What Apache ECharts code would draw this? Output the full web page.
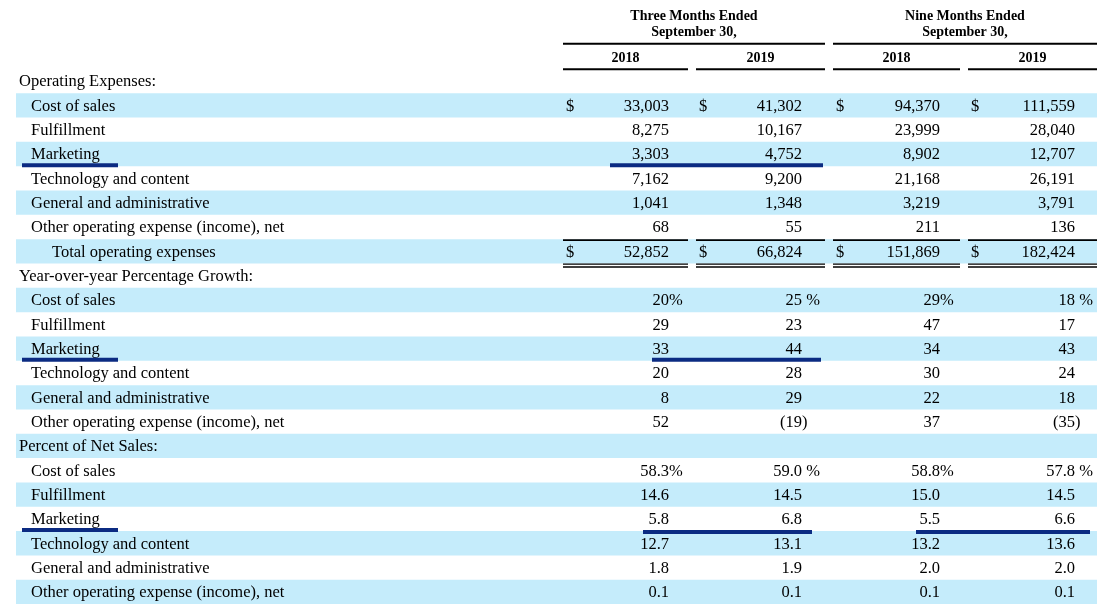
<!DOCTYPE html>
<html>
<head>
<meta charset="utf-8">
<script src="https://cdn.jsdelivr.net/npm/echarts@6/dist/echarts.min.js"></script>
<style>
  html, body { margin: 0; padding: 0; background: #fff; }
  #chart { width: 1109px; height: 613px; }
</style>
</head>
<body>
<div id="chart"></div>
<script>
// ---- table text and values ----
const periodTitles = ['Three Months Ended', 'Nine Months Ended'];
const periodSubtitle = 'September 30,';
const years = ['2018', '2019', '2018', '2019'];

const sectionTitles = ['Operating Expenses:', 'Year-over-year Percentage Growth:', 'Percent of Net Sales:'];
const expenseItems = ['Cost of sales', 'Fulfillment', 'Marketing', 'Technology and content',
  'General and administrative', 'Other operating expense (income), net'];
const totalLabel = 'Total operating expenses';

// operating expenses, $ millions (last value = total)
const expense3m2018 = [33003, 8275, 3303, 7162, 1041, 68, 52852];
const expense3m2019 = [41302, 10167, 4752, 9200, 1348, 55, 66824];
const expense9m2018 = [94370, 23999, 8902, 21168, 3219, 211, 151869];
const expense9m2019 = [111559, 28040, 12707, 26191, 3791, 136, 182424];

// year-over-year growth, %
const growth3m2018 = [20, 29, 33, 20, 8, 52];
const growth3m2019 = [25, 23, 44, 28, 29, -19];
const growth9m2018 = [29, 47, 34, 30, 22, 37];
const growth9m2019 = [18, 17, 43, 24, 18, -35];

// percent of net sales
const share3m2018 = [58.3, 14.6, 5.8, 12.7, 1.8, 0.1];
const share3m2019 = [59.0, 14.5, 6.8, 13.1, 1.9, 0.1];
const share9m2018 = [58.8, 15.0, 5.5, 13.2, 2.0, 0.1];
const share9m2019 = [57.8, 14.5, 6.6, 13.6, 2.0, 0.1];

// ---- layout (x positions on a 0..1109 value axis) ----
const colSpans = [[563, 688], [696, 825], [833, 960], [968, 1097]];
const valueRight = [669, 802, 940, 1075];
const dollarLeft = [566, 699, 836, 971];
const bandSpan = [16, 1097];
const indent = { section: 19, item: 31, total: 52 };
const serif = '"Liberation Serif", "Times New Roman", serif';
const bodySize = 16.5;
const headSize = 14;
const bandColor = '#c5ecfb';
const markColor = '#0b2b82';

// build the row list (row 0 = year header)
const rows = [{ kind: 'years' }];
const sections = [
  { title: sectionTitles[0], cols: [expense3m2018, expense3m2019, expense9m2018, expense9m2019], fmt: 'money' },
  { title: sectionTitles[1], cols: [growth3m2018, growth3m2019, growth9m2018, growth9m2019], fmt: 'growth' },
  { title: sectionTitles[2], cols: [share3m2018, share3m2019, share9m2018, share9m2019], fmt: 'share' }
];
sections.forEach(function (sec) {
  rows.push({ kind: 'section', label: sec.title });
  expenseItems.forEach(function (name, i) {
    rows.push({ kind: 'item', label: name, fmt: sec.fmt, first: i === 0,
      values: sec.cols.map(function (c) { return c[i]; }) });
  });
  if (sec.fmt === 'money') {
    rows.push({ kind: 'total', label: totalLabel, fmt: 'money',
      values: sec.cols.map(function (c) { return c[expenseItems.length]; }) });
  }
});
const rowKeys = rows.map(function (r, i) { return String(i); });

function formatCell(row, col) {
  const v = row.values[col];
  if (row.fmt === 'money') return { main: v.toLocaleString('en-US'), tail: '' };
  let main, tail = '';
  if (row.fmt === 'growth') {
    main = v < 0 ? '(' + (-v) : String(v);
    if (v < 0) tail = ')';
  } else {
    main = v.toFixed(1);
  }
  if (row.first) tail = col % 2 === 0 ? '%' : ' %';
  return { main: main, tail: tail };
}

function txt(x, y, text, align, size, bold) {
  return {
    type: 'text', x: x, y: y,
    style: {
      text: text, fill: '#000',
      fontFamily: serif, fontSize: size, fontWeight: bold ? 'bold' : 'normal',
      align: align, verticalAlign: 'middle', textAlign: align, textVerticalAlign: 'middle'
    }
  };
}
function hline(x1, x2, y, w, color) {
  return { type: 'line', shape: { x1: x1, y1: y, x2: x2, y2: y },
    style: { stroke: color || '#000', lineWidth: w } };
}

// striped background rows
const bandData = rows.map(function (r, i) { return i; }).filter(function (i) { return i > 0 && i % 2 === 0; });

const chart = echarts.init(document.getElementById('chart'), null, { renderer: 'canvas' });

chart.setOption({
  animation: false,
  grid: { left: 0, right: 0, top: 44.5, bottom: 8.9 },
  xAxis: { type: 'value', min: 0, max: 1109, show: false },
  yAxis: { type: 'category', data: rowKeys, inverse: true, show: false },
  series: [
    {
      type: 'custom', z: 1, silent: true,
      data: bandData.map(function (i) { return [0, i]; }),
      renderItem: function (params, api) {
        const p1 = api.coord([bandSpan[0], api.value(1)]);
        const p2 = api.coord([bandSpan[1], api.value(1)]);
        const h = api.size([0, 1])[1];
        return { type: 'rect', shape: { x: p1[0], y: p1[1] - h / 2, width: p2[0] - p1[0], height: h },
          style: { fill: bandColor } };
      }
    },
    {
      type: 'custom', z: 2, silent: true, clip: false,
      data: rows.map(function (r, i) { return [0, i]; }),
      renderItem: function (params, api) {
        const idx = api.value(1);
        const row = rows[idx];
        const cy = api.coord([0, idx])[1];
        const h = api.size([0, 1])[1];
        const X = function (v) { return api.coord([v, idx])[0]; };
        const kids = [];
        if (row.kind === 'years') {
          periodTitles.forEach(function (t, p) {
            const a = colSpans[p * 2][0], b = colSpans[p * 2 + 1][1];
            const mid = X((a + b) / 2);
            kids.push(txt(mid, cy - 40, t, 'center', headSize, true));
            kids.push(txt(mid, cy - 24, periodSubtitle, 'center', headSize, true));
            kids.push(hline(X(a), X(b), cy - 13, 2));
          });
          years.forEach(function (y, c) {
            const s = colSpans[c];
            kids.push(txt(X((s[0] + s[1]) / 2), cy + 2, y, 'center', headSize, true));
            kids.push(hline(X(s[0]), X(s[1]), cy + 12.5, 2));
          });
          return { type: 'group', children: kids };
        }
        kids.push(txt(X(indent[row.kind]), cy + 1, row.label, 'left', bodySize, false));
        if (row.values) {
          row.values.forEach(function (v, c) {
            const f = formatCell(row, c);
            kids.push(txt(X(valueRight[c]), cy + 1, f.main, 'right', bodySize, false));
            if (f.tail) kids.push(txt(X(valueRight[c]), cy + 1, f.tail, 'left', bodySize, false));
            if (row.fmt === 'money' && (row.first || row.kind === 'total')) {
              kids.push(txt(X(dollarLeft[c]), cy + 1, '$', 'left', bodySize, false));
            }
          });
        }
        if (row.kind === 'total') {
          colSpans.forEach(function (s) {
            kids.push(hline(X(s[0]), X(s[1]), cy - h / 2 + 1, 1.7));
            kids.push(hline(X(s[0]), X(s[1]), cy + h / 2 + 0.6, 1.2));
            kids.push(hline(X(s[0]), X(s[1]), cy + h / 2 + 3.6, 1.4));
          });
        }
        return { type: 'group', children: kids };
      }
    },
    {
      // highlight underlines on the Marketing rows
      type: 'custom', z: 3, silent: true, clip: false,
      data: rows.map(function (r, i) { return [0, i]; }).filter(function (d) { return rows[d[1]].label === 'Marketing'; }),
      renderItem: function (params, api) {
        const idx = api.value(1);
        const row = rows[idx];
        const cy = api.coord([0, idx])[1];
        const h = api.size([0, 1])[1];
        const X = function (v) { return api.coord([v, idx])[0]; };
        const y = cy + h / 2 - 1;
        const kids = [hline(X(22), X(118), y, 4, markColor)];
        if (row.fmt === 'money') kids.push(hline(X(610), X(823), y, 4, markColor));
        if (row.fmt === 'growth') kids.push(hline(X(652), X(821), y, 4, markColor));
        if (row.fmt === 'share') {
          kids.push(hline(X(643), X(812), y + 2, 4, markColor));
          kids.push(hline(X(916), X(1090), y + 2, 4, markColor));
        }
        return { type: 'group', children: kids };
      }
    }
  ]
});
</script>
</body>
</html>
